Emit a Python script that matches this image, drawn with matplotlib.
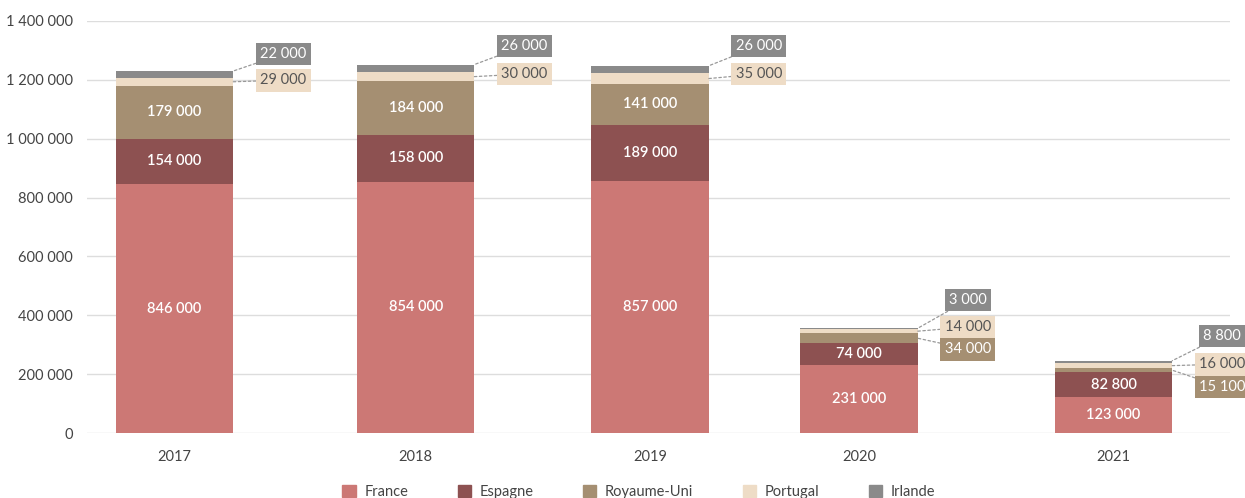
import matplotlib.pyplot as plt
from matplotlib.patches import Patch
import numpy as np

plt.rcParams['font.family'] = ['Lato', 'DejaVu Sans']

years = ["2017", "2018", "2019", "2020", "2021"]
series = ["France", "Espagne", "Royaume-Uni", "Portugal", "Irlande"]
france = [846000, 854000, 857000, 231000, 123000]
espagne = [154000, 158000, 189000, 74000, 82800]
royaume_uni = [179000, 184000, 141000, 34000, 15100]
portugal = [29000, 30000, 35000, 14000, 16000]
irlande = [22000, 26000, 26000, 3000, 8800]

colors = ["#cc7875", "#8d5151", "#a58f72", "#eedcc6", "#8a8a8a"]
text_cols = ["white", "white", "white", "#555555", "white"]

def fmt(v):
    return "{:,}".format(int(round(v))).replace(",", " ")

fig = plt.figure(figsize=(12.45, 4.98), dpi=100)
ax = fig.add_axes([87 / 1245, 1 - 433 / 498, (1230 - 87) / 1245, 412 / 498])

# bar slots are not evenly spaced in the original
x = np.array([0, 1.027, 2.026, 2.916, 4.0])
w = 0.5
data = [france, espagne, royaume_uni, portugal, irlande]
bottom = np.zeros(len(years))
bottoms = []
for vals, c in zip(data, colors):
    bottoms.append(bottom.copy())
    ax.bar(x, vals, w, bottom=bottom, color=c, zorder=2)
    bottom = bottom + np.array(vals)

# labels inside the bars
for i in range(len(years)):
    inside = [0, 1, 2] if i < 3 else [0, 1]
    for s in inside:
        v = data[s][i]
        ax.text(x[i], bottoms[s][i] + v / 2, fmt(v), ha="center", va="center",
                color="white", fontsize=10.5, fontweight="semibold", zorder=3)

# callout boxes for the small segments: (series index, y position of box)
callouts = [
    [(4, 1288000), (3, 1199000)],
    [(4, 1315000), (3, 1220000)],
    [(4, 1315000), (3, 1220000)],
    [(4, 452000), (3, 360000), (2, 285000)],
    [(4, 330000), (3, 234000), (2, 156000)],
]
for i, items in enumerate(callouts):
    for s, ytxt in items:
        v = data[s][i]
        if s == 4:
            yanchor = bottoms[s][i] + v
        else:
            yanchor = bottoms[s][i] + v / 2
        ax.annotate(fmt(v), xy=(x[i] + w / 2, yanchor), xytext=(x[i] + 0.463, ytxt),
                    ha="center", va="center", fontsize=10.5, color=text_cols[s],
                    bbox=dict(boxstyle="square,pad=0.3", fc=colors[s], ec="none"),
                    arrowprops=dict(arrowstyle="-", ls=(0, (2, 2)), color="#999999", lw=0.9,
                                    shrinkA=0, shrinkB=0),
                    zorder=4)

ax.set_xlim(-0.373, 4.496)
ax.set_ylim(0, 1400000)
ax.set_yticks(np.arange(0, 1400001, 200000))
ax.set_yticklabels([fmt(t) for t in np.arange(0, 1400001, 200000)], fontsize=10.5, color="#444444")
ax.set_xticks(x)
ax.set_xticklabels(years, fontsize=10.5, color="#444444")
ax.grid(axis="y", color="#dddddd", lw=1, zorder=0)
for sp in ax.spines.values():
    sp.set_visible(False)
ax.tick_params(length=0)
ax.tick_params(axis="x", pad=12)
ax.tick_params(axis="y", pad=10)

handles = [Patch(color=c, label=s) for c, s in zip(colors, series)]
fig.legend(handles=handles, loc="center", bbox_to_anchor=(639 / 1245, 1 - 492 / 498), ncol=5,
           frameon=False, fontsize=10.5, handlelength=0.9, handleheight=0.9,
           columnspacing=3.4, handletextpad=0.6, labelcolor="#444444")

fig.savefig("out.png", dpi=100)
